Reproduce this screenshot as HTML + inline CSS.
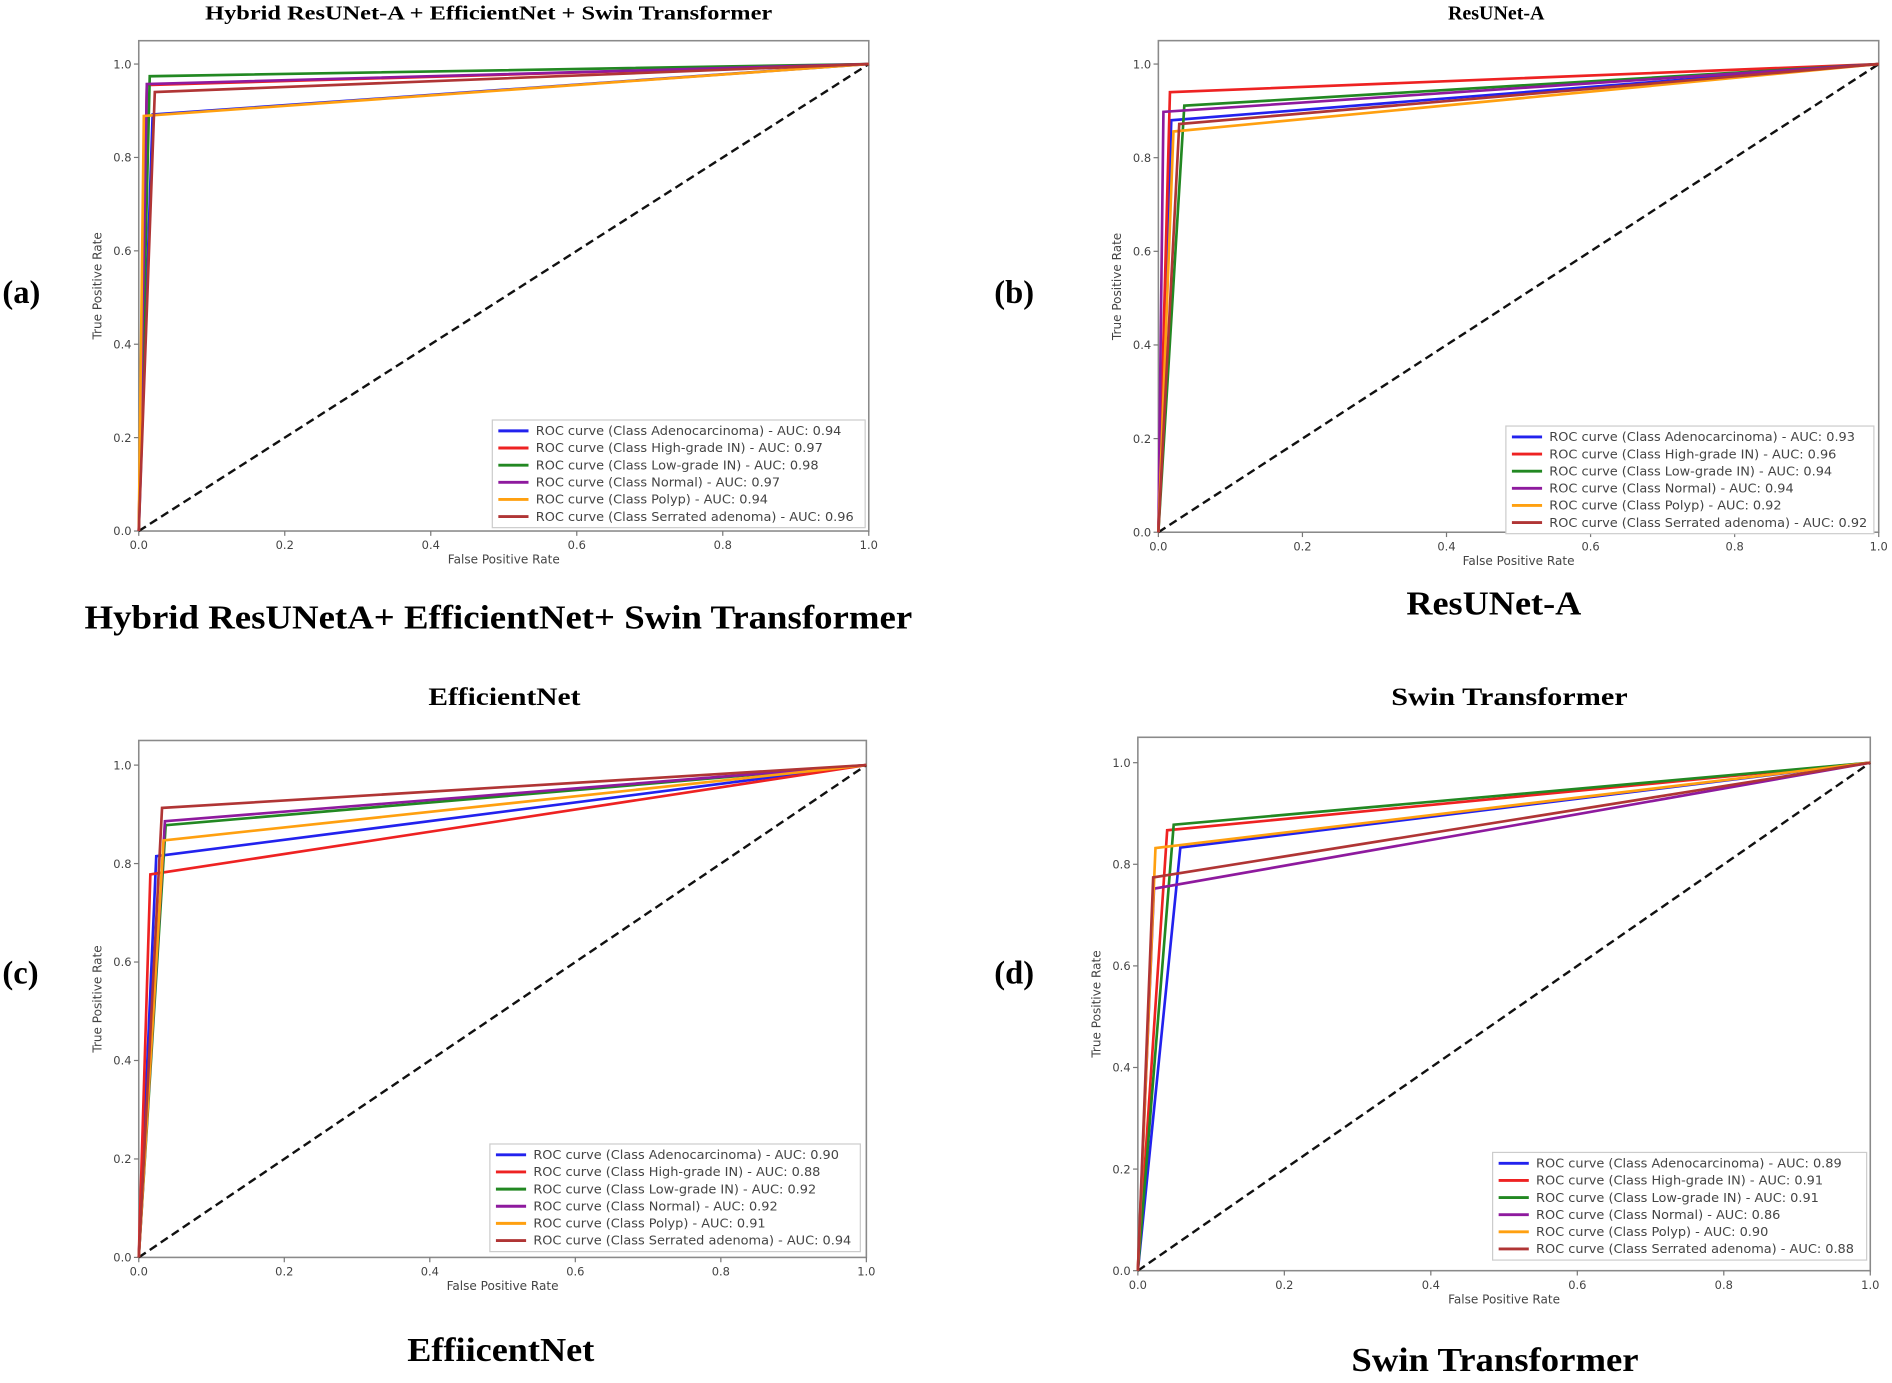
<!DOCTYPE html>
<html><head><meta charset="utf-8">
<style>
html,body{margin:0;padding:0;background:#fff;}
svg{display:block;}
.ttl{font-family:"Liberation Serif",serif;font-weight:bold;}
.tk{font-family:"DejaVu Sans","Liberation Sans",sans-serif;fill:#444;}
</style></head>
<body>
<svg id="fig" width="1892" height="1383" viewBox="0 0 1568 1146" xmlns="http://www.w3.org/2000/svg"></svg>
<script>
// ---- data ----
const classNames = ["Adenocarcinoma","High-grade IN","Low-grade IN","Normal","Polyp","Serrated adenoma"];
const classColors = ["#2222ee","#ee2222","#228822","#8e1a9e","#ffa010","#b03535"];
const tickLabels = ["0.0","0.2","0.4","0.6","0.8","1.0"];
const tickValues = [0,0.2,0.4,0.6,0.8,1.0];
// panel a: hybrid
const fprA = [0.019,0.011,0.015,0.011,0.007,0.022];
const tprA = [0.892,0.955,0.974,0.957,0.889,0.940];
const aucA = ["0.94","0.97","0.98","0.97","0.94","0.96"];
// panel b: ResUNet-A
const fprB = [0.018,0.016,0.036,0.007,0.021,0.029];
const tprB = [0.880,0.940,0.911,0.898,0.856,0.872];
const aucB = ["0.93","0.96","0.94","0.94","0.92","0.92"];
// panel c: EfficientNet
const fprC = [0.024,0.016,0.037,0.036,0.034,0.032];
const tprC = [0.815,0.778,0.878,0.886,0.847,0.913];
const aucC = ["0.90","0.88","0.92","0.92","0.91","0.94"];
// panel d: Swin
const fprD = [0.058,0.040,0.049,0.022,0.024,0.021];
const tprD = [0.833,0.867,0.878,0.752,0.832,0.774];
const aucD = ["0.89","0.91","0.91","0.86","0.90","0.88"];

const NS="http://www.w3.org/2000/svg";
const svg=document.getElementById('fig');
function mk(tag,attrs,parent){const e=document.createElementNS(NS,tag);for(const k in attrs)e.setAttribute(k,attrs[k]);(parent||svg).appendChild(e);return e;}

const panels=[
 {id:'a',fpr:fprA,tpr:tprA,auc:aucA,x0:115,x1:720,y0:440,y1:53,title:"Hybrid ResUNet-A + EfficientNet + Swin Transformer",tx:405,ty:16,tfs:17,tw:470,cap:"Hybrid ResUNetA+ EfficientNet+ Swin Transformer",cx:413,cy:521,cw:686,lx:408,ly:348,lw:309,lab:"(a)",labx:2,laby:251},
 {id:'b',fpr:fprB,tpr:tprB,auc:aucB,x0:960,x1:1557,y0:441,y1:53,title:"ResUNet-A",tx:1240,ty:16,tfs:17,tw:80,cap:"ResUNet-A",cx:1238,cy:509,cw:145,lx:1248,ly:353,lw:305,lab:"(b)",labx:824,laby:251},
 {id:'c',fpr:fprC,tpr:tprC,auc:aucC,x0:115,x1:718,y0:1042,y1:634,title:"EfficientNet",tx:418,ty:584,tfs:21,tw:126,cap:"EffiicentNet",cx:415,cy:1128,cw:155,lx:406,ly:948,lw:307,lab:"(c)",labx:2,laby:815},
 {id:'d',fpr:fprD,tpr:tprD,auc:aucD,x0:943,x1:1550,y0:1053,y1:632,title:"Swin Transformer",tx:1251,ty:584,tfs:21,tw:196,cap:"Swin Transformer",cx:1239,cy:1136,cw:238,lx:1237,ly:955,lw:310,lab:"(d)",labx:824,laby:815}
];

panels.forEach(p=>{
  const g=mk('g',{});
  
  
  const X=v=>p.x0+v*(p.x1-p.x0);
  const Y=v=>p.y0-v*(p.y0-p.y1);
  const top=Y(1.05);
  const t=mk('text',{x:p.tx,y:p.ty,'text-anchor':'middle','font-size':p.tfs,class:'ttl',textLength:p.tw,lengthAdjust:'spacingAndGlyphs'},g);t.textContent=p.title;
   
  const cap=mk('text',{x:p.cx,y:p.cy,'text-anchor':'middle','font-size':28,class:'ttl',textLength:p.cw,lengthAdjust:'spacingAndGlyphs'},g);cap.textContent=p.cap;
   
  const lb=mk('text',{x:p.labx,y:p.laby,'font-size':27,class:'ttl'},g);lb.textContent=p.lab;
   
  const fr=mk('rect',{x:p.x0,y:top,width:p.x1-p.x0,height:p.y0-top,fill:'none',stroke:'#8a8a8a','stroke-width':1.3},g);
   
  tickValues.forEach((v,i)=>{
    mk('line',{x1:p.x0-4,x2:p.x0,y1:Y(v),y2:Y(v),stroke:'#777'},g);
    const ty=mk('text',{x:p.x0-6,y:Y(v)+3.5,'text-anchor':'end','font-size':9.5,class:'tk'},g);ty.textContent=tickLabels[i];
     
    mk('line',{x1:X(v),x2:X(v),y1:p.y0,y2:p.y0+4,stroke:'#777'},g);
    const tx=mk('text',{x:X(v),y:p.y0+15,'text-anchor':'middle','font-size':9.5,class:'tk'},g);tx.textContent=tickLabels[i];
     
  });
  const xt=mk('text',{x:(p.x0+p.x1)/2,y:p.y0+27,'text-anchor':'middle','font-size':10,class:'tk'},g);xt.textContent="False Positive Rate";
   
  const ym=(p.y0+top)/2;
  const yt=mk('text',{x:p.x0-31,y:ym,'text-anchor':'middle','font-size':10,class:'tk',transform:`rotate(-90 ${p.x0-31} ${ym})`},g);yt.textContent="True Positive Rate";
   
  const dg=mk('line',{x1:X(0),y1:Y(0),x2:X(1),y2:Y(1),stroke:'#111','stroke-width':2,'stroke-dasharray':'7,4'},g);
   
  classNames.forEach((c,i)=>{
    const pts=[[0,0],[p.fpr[i],p.tpr[i]],[1,1]].map(q=>X(q[0]).toFixed(1)+','+Y(q[1]).toFixed(1)).join(' ');
    const pl=mk('polyline',{points:pts,fill:'none',stroke:classColors[i],'stroke-width':2.2,'stroke-linejoin':'miter'},g);
    
    
  });
  const lg=mk('g',{},g);
   
  const step=14.2;
  mk('rect',{x:p.lx,y:p.ly,width:p.lw,height:step*6+4,fill:'#fff',stroke:'#ccc','stroke-width':1},lg);
  classNames.forEach((c,i)=>{
    const yy=p.ly+9+i*step;
    const e=mk('g',{},lg);
     
    mk('line',{x1:p.lx+5,x2:p.lx+30,y1:yy,y2:yy,stroke:classColors[i],'stroke-width':2.4},e);
    const tt=mk('text',{x:p.lx+36,y:yy+3.5,'font-size':10,class:'tk'},e);
    tt.textContent=`ROC curve (Class ${c}) - AUC: ${p.auc[i]}`;
    const w=tt.getComputedTextLength();
    if(w>0){tt.setAttribute('textLength',(w*1.07).toFixed(1));tt.setAttribute('lengthAdjust','spacingAndGlyphs');}
  });
});
</script>
</body></html>
